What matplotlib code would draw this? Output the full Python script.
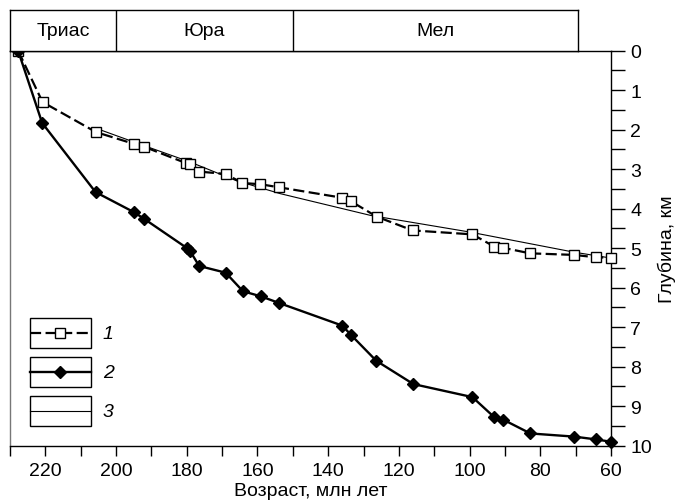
import matplotlib
matplotlib.use('Agg')
import matplotlib.pyplot as plt
from matplotlib.patches import Rectangle
from matplotlib.lines import Line2D
from matplotlib.ticker import MultipleLocator

plt.rcParams['font.family'] = ['Liberation Sans', 'DejaVu Sans']

# curve 1 (squares, dashed)
age1 = [227.7, 220.8, 205.7, 194.9, 192.1, 180.1, 179.2, 176.6, 169.0, 164.3, 159.2, 153.8,
        136.2, 133.6, 126.3, 116.1, 99.2, 93.0, 90.5, 82.9, 70.4, 64.3, 60.1]
depth1 = [0.0, 1.30, 2.06, 2.36, 2.43, 2.85, 2.86, 3.06, 3.12, 3.35, 3.38, 3.46,
          3.72, 3.81, 4.20, 4.55, 4.65, 4.96, 4.99, 5.13, 5.17, 5.23, 5.24]
# curve 2 (diamonds, solid)
age2 = [227.7, 220.9, 205.8, 194.9, 192.0, 179.9, 179.0, 176.5, 169.0, 164.1, 159.0, 153.8,
        136.0, 133.6, 126.4, 115.9, 99.2, 93.0, 90.5, 82.8, 70.4, 64.3, 60.0]
depth2 = [0.0, 1.83, 3.58, 4.09, 4.26, 5.00, 5.08, 5.45, 5.62, 6.09, 6.22, 6.39,
          6.96, 7.19, 7.85, 8.44, 8.77, 9.28, 9.34, 9.69, 9.77, 9.84, 9.90]
# curve 3 (thin line)
age3 = [205.5, 195.0, 179.0, 166.0, 153.5, 128.0, 100.0, 70.5, 60.0]
depth3 = [1.97, 2.31, 2.82, 3.29, 3.62, 4.17, 4.59, 5.10, 5.25]

periods = ['Триас', 'Юра', 'Мел']
period_bounds = [230, 200, 150, 69.4]
legend_labels = ['1', '2', '3']

FS = 14
W, H = 677, 502
fig = plt.figure(figsize=(W/100, H/100), dpi=100)
x0, x1, ytop, ybot = 10, 611, 51.7, 446.7
ax = fig.add_axes([x0/W, 1-ybot/H, (x1-x0)/W, (ybot-ytop)/H])

ax.plot(age3, depth3, color='black', lw=0.8, zorder=2)
ax.plot(age1, depth1, color='black', lw=1.6, dashes=(5, 2), marker='s', ms=7.5,
        mfc='white', mec='black', mew=1.0, zorder=3, clip_on=False)
ax.plot(age2, depth2, color='black', lw=1.7, marker='D', ms=6.5,
        mfc='black', mec='black', zorder=4, clip_on=False)

ax.set_xlim(230, 60)
ax.set_ylim(10, 0)
ax.xaxis.set_major_locator(MultipleLocator(20))
ax.xaxis.set_minor_locator(MultipleLocator(10))
ax.yaxis.set_major_locator(MultipleLocator(1))
ax.yaxis.set_minor_locator(MultipleLocator(0.5))
ax.yaxis.tick_right()
ax.yaxis.set_label_position('right')
ax.tick_params(axis='x', which='both', direction='out', length=7, width=1, labelsize=FS, pad=5)
ax.tick_params(axis='y', which='both', direction='out', length=10, width=1, labelsize=FS, pad=4)
for s in ax.spines.values():
    s.set_linewidth(1.0)
ax.spines['left'].set_color('#777777')
ax.set_xlabel('Возраст, млн лет', fontsize=FS, labelpad=2)
ax.set_ylabel('Глубина, км', fontsize=FS, labelpad=4, rotation=90)

# period box on top
bx1 = 611 - (period_bounds[-1] - 60) * 3.535
bax = fig.add_axes([x0/W, 1-ytop/H, (bx1-x0)/W, (ytop-11)/H])
bax.set_xlim(period_bounds[0], period_bounds[-1])
bax.set_ylim(0, 1)
bax.set_xticks([])
bax.set_yticks([])
for s in bax.spines.values():
    s.set_linewidth(1.0)
for i, name in enumerate(periods):
    a, b = period_bounds[i], period_bounds[i+1]
    if i > 0:
        bax.axvline(a, color='black', lw=1.0)
    bax.text((a+b)/2, 0.5, name, ha='center', va='center', fontsize=FS)

# legend boxes
lx0, lx1 = 0.0333, 0.1343
box_y = [(0.2466, 0.3233), (0.1478, 0.2238), (0.0491, 0.1251)]
styles = [dict(ls=(0, (5, 2)), lw=1.6, marker='s', ms=7.5, mfc='white', mec='black'),
          dict(ls='-', lw=1.7, marker='D', ms=6.5, mfc='black', mec='black'),
          dict(ls='-', lw=0.8, marker=None)]
for (yb, yt), st, lab in zip(box_y, styles, legend_labels):
    ax.add_patch(Rectangle((lx0, yb), lx1-lx0, yt-yb, transform=ax.transAxes,
                           fill=False, ec='black', lw=1.0, zorder=5))
    ym = (yb+yt)/2
    ax.add_line(Line2D([lx0, lx1], [ym, ym], transform=ax.transAxes, color='black',
                       ls=st['ls'], lw=st['lw'], zorder=5))
    if st.get('marker'):
        ax.add_line(Line2D([(lx0+lx1)/2], [ym], transform=ax.transAxes, ls='none',
                           marker=st['marker'], ms=st['ms'], mfc=st['mfc'], mec=st['mec'], zorder=6))
    ax.text(lx1+0.02, ym, lab, transform=ax.transAxes, ha='left', va='center',
            fontsize=FS, style='italic')

fig.savefig('out.png', dpi=100)
